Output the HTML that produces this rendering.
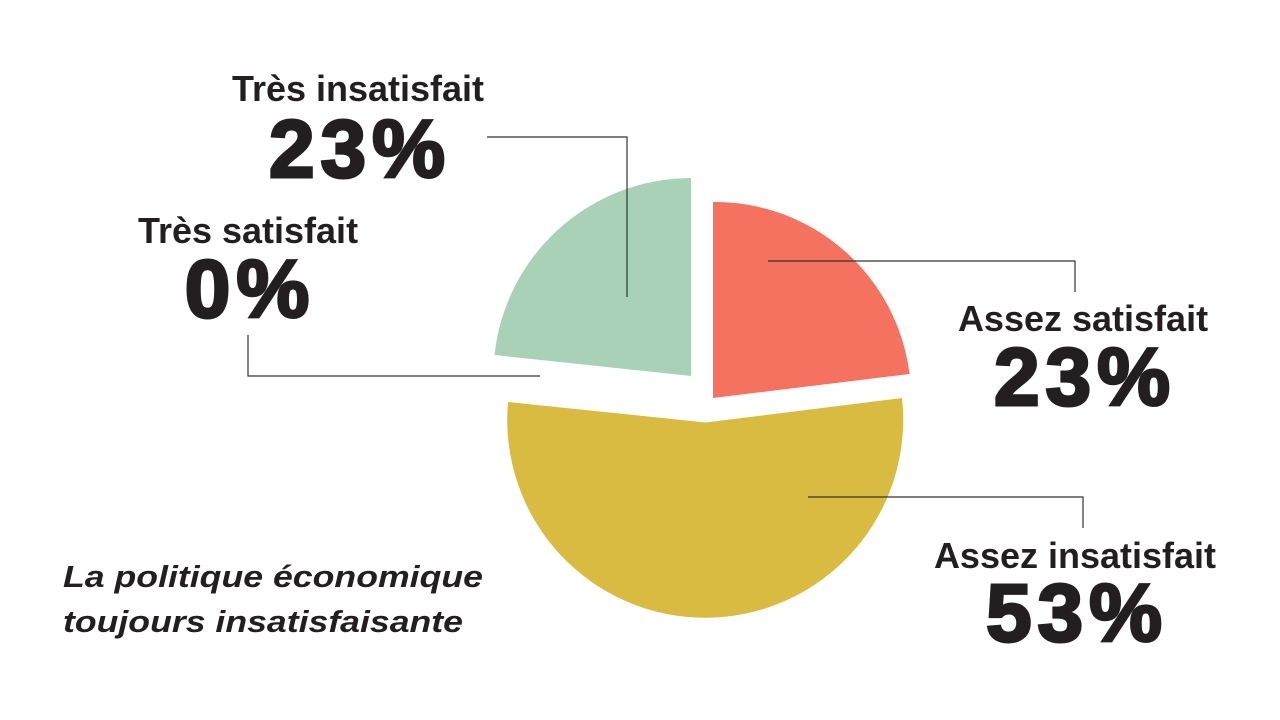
<!DOCTYPE html>
<html><head><meta charset="utf-8"><style>
body{margin:0;width:1280px;height:720px;background:#fff;overflow:hidden;font-family:"Liberation Sans",sans-serif;}
svg{position:absolute;left:0;top:0}
.big{font-size:82px;letter-spacing:6px;stroke:#231f20;stroke-width:3;}
</style></head><body>
<svg width="1280" height="720" viewBox="0 0 1280 720">
<g>
<path d="M713,398 L713,202 A196,196 0 0 1 909.5,374 Z" fill="#f4725f"/>
<path d="M691,376 L691,178 A198,198 0 0 0 494.5,355 Z" fill="#a8d1b7"/>
<path d="M705.6,422.5 L902,398 A198,198 0 1 1 508,402 Z" fill="#d9bb42"/>
</g>
<g stroke="#333" stroke-width="1.2" fill="none">
<polyline points="487,137 627,137 627,297"/>
<polyline points="248,335 248,376 540,376"/>
<polyline points="768,261 1075,261 1075,292"/>
<polyline points="808,497 1083,497 1083,528"/>
</g>
<g fill="#231f20" font-family="Liberation Sans, sans-serif" font-weight="bold">
<text x="358" y="101" font-size="36" text-anchor="middle">Très insatisfait</text>
<text x="360" y="177" class="big" text-anchor="middle">23%</text>
<text x="248" y="243" font-size="36" text-anchor="middle">Très satisfait</text>
<text x="250" y="317" class="big" text-anchor="middle">0%</text>
<text x="1083" y="331" font-size="36" text-anchor="middle">Assez satisfait</text>
<text x="1085" y="405" class="big" text-anchor="middle">23%</text>
<text x="1075" y="568" font-size="36" text-anchor="middle">Assez insatisfait</text>
<text x="1077" y="641" class="big" text-anchor="middle">53%</text>
<text x="63" y="587" font-size="31" font-style="italic" textLength="420" lengthAdjust="spacingAndGlyphs">La politique économique</text>
<text x="63" y="632" font-size="31" font-style="italic" textLength="400" lengthAdjust="spacingAndGlyphs">toujours insatisfaisante</text>
</g>
</svg>
</body></html>
